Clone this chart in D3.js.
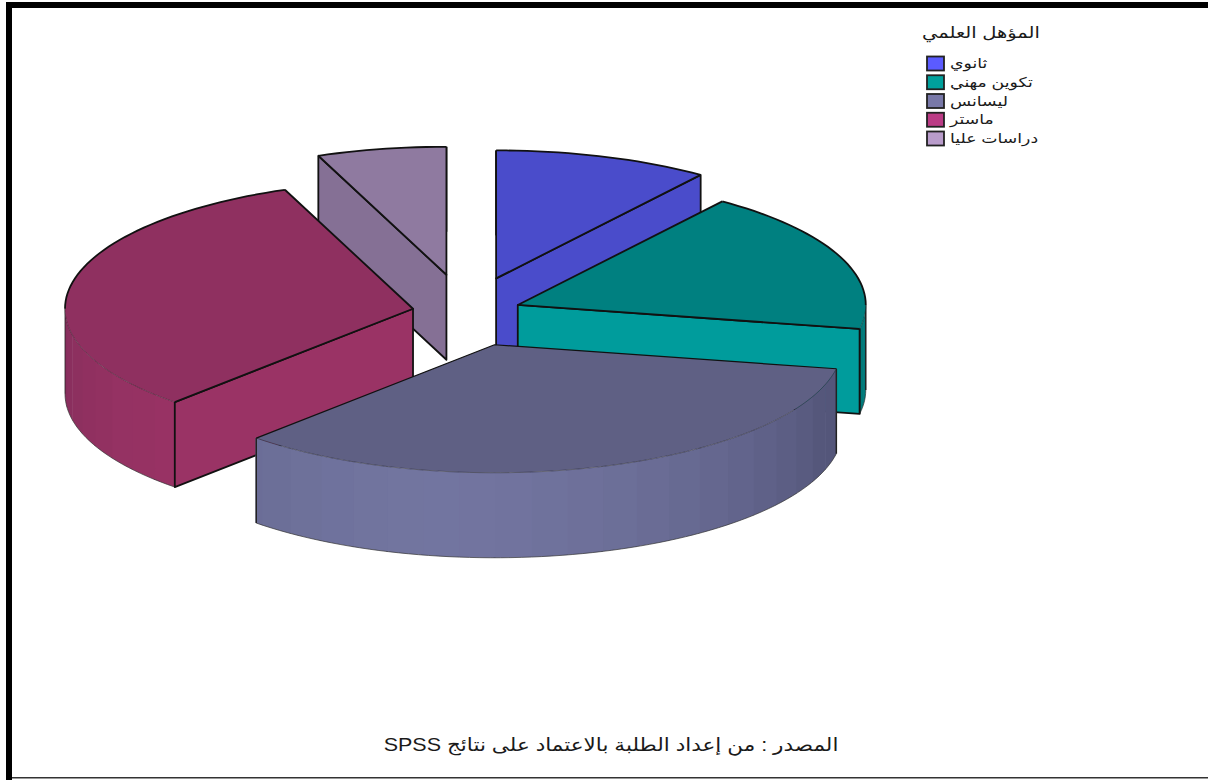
<!DOCTYPE html>
<html><head><meta charset="utf-8">
<script src="https://cdn.jsdelivr.net/npm/d3@7/dist/d3.min.js"></script>
<style>html,body{margin:0;padding:0;background:#fff;overflow:hidden}svg{display:block}text{font-family:"Liberation Sans","DejaVu Sans",sans-serif;fill:#1a1a1a}</style>
</head><body><svg id="c" width="1208" height="780"></svg>
<script>
const categories = ["ثانوي","تكوين مهني","ليسانس","ماستر","دراسات عليا"];
const values = [10,18,34,32,6];
const pulls = [0.28,0.16,0.265,0.155,0.30];
const topColors = ["#4a4ccb","#008080","#5f6084","#8f3060","#8f7aa0"];
const cutColors = ["#4a4ccb","#009c9c","#5f6084","#9a3365","#857095"];
const wallLight = ["#4a4ccb","#009c9c","#7275a0","#9a3365","#857095"];
const wallDark  = ["#3b3da3","#007a7a","#54567a","#772a55","#6b5a78"];
const legendColors = ["#5b5bff","#00a09c","#7878a8","#bb3b85","#b99ccb"];
const legendTitle = "المؤهل العلمي";
const sourceNote = "المصدر : من إعداد الطلبة بالاعتماد على نتائج SPSS";

const svg = d3.select("#c");
const drawOrder = [4,0,3,1,2];
const base = {x:466,y:312.5}, rx=348, ry=128, depth=85;
const sx = d3.scaleLinear().domain([-1,1]).range([-rx,rx]);
const sy = d3.scaleLinear().domain([-1,1]).range([-ry,ry]);
const arcs = d3.pie().sort(null).value(d=>d)(values);
const line = d3.line().x(p=>p[0]).y(p=>p[1]);
const PI = Math.PI;
function onRim(c,t,z=0){return [c.x+sx(Math.sin(t)), c.y+sy(-Math.cos(t))+z];}
function rim(c,t0,t1,z=0){
  const n=Math.max(2,Math.ceil((t1-t0)/0.03));
  return d3.range(n+1).map(i=>onRim(c,t0+(t1-t0)*i/n,z));
}
// frame
const frame = svg.append("g");
frame.append("rect").attr("x",6).attr("y",2).attr("width",1202).attr("height",6).attr("fill","#000");
frame.append("rect").attr("x",6).attr("y",2).attr("width",6).attr("height",778).attr("fill","#000");
frame.append("rect").attr("x",12).attr("y",777).attr("width",1196).attr("height",1.5).attr("fill","#333");

const g = svg.append("g");
drawOrder.forEach(i=>{
  const a=arcs[i], m=(a.startAngle+a.endAngle)/2;
  const c={x:base.x+pulls[i]*sx(Math.sin(m)), y:base.y+pulls[i]*sy(-Math.cos(m))};
  const heavy = i!==2;
  const sw = heavy?1.8:1.2;
  const s=g.append("g").attr("class","slice");
  // outer wall
  const w0=Math.max(a.startAngle,PI/2), w1=Math.min(a.endAngle,3*PI/2);
  if(w1>w0){
    const band=6*PI/180;
    const col=d3.interpolateRgb(wallLight[i],wallDark[i]);
    const k0=Math.floor(w0/band), k1=Math.ceil(w1/band);
    d3.range(k0,k1).forEach(k=>{
      const t0=Math.max(w0,k*band), t1=Math.min(w1,(k+1)*band);
      const mt=(t0+t1)/2;
      const f=Math.min(1,Math.pow(Math.abs(mt-(i===3?3.7:3.3))/(80*PI/180),1.6));
      const top=rim(c,t0-0.003,t1+0.003), bot=rim(c,t0-0.003,t1+0.003,depth).reverse();
      s.append("path").attr("d",line(top.concat(bot))+"Z").attr("fill",col(f)).attr("stroke","none");
    });
    s.append("path").attr("d",line(rim(c,w0,w1,depth))).attr("fill","none").attr("stroke","#333").attr("stroke-width",0.7);
    [w0,w1].forEach(t=>{
      const p=onRim(c,t);
      s.append("path").attr("d",line([p,[p[0],p[1]+depth]])).attr("stroke","#222").attr("stroke-width",i===3&&t===w1?0.8:1.5).attr("fill","none");
    });
  }
  // visible cut faces
  const cutFace=t=>{
    const p=onRim(c,t), apex=[c.x,c.y];
    s.append("path").attr("d",line([apex,p,[p[0],p[1]+depth],[apex[0],apex[1]+depth]])+"Z")
      .attr("fill",cutColors[i]).attr("stroke","#111").attr("stroke-width",1.8).attr("stroke-linejoin","round");
  };
  if(i===0||i===4) cutFace(i===0?a.endAngle:a.startAngle);
  if(i===1||i===3) cutFace(i===1?a.endAngle:a.startAngle);
  // back edges at the far side of a slice
  if(i===0||i===4){
    const p=onRim(c,i===0?a.startAngle:a.endAngle);
    s.append("path").attr("d",line([p,[p[0],p[1]+depth]])).attr("stroke","#111").attr("stroke-width",1.8).attr("fill","none");
  }
  // top face
  const pts=[[c.x,c.y]].concat(rim(c,a.startAngle,a.endAngle));
  s.append("path").attr("d",line(pts)+"Z").attr("fill",topColors[i]).attr("stroke","none");
  // radial edges
  s.append("path").attr("d",line([onRim(c,a.endAngle),[c.x,c.y],onRim(c,a.startAngle)])).attr("fill","none").attr("stroke","#111").attr("stroke-width",sw).attr("stroke-linejoin","round");
  // rim edge: heavy on the back part, fine on the front part
  const segs=[];
  if(a.startAngle<PI/2) segs.push([a.startAngle,Math.min(a.endAngle,PI/2),1.8,1]);
  if(w1>w0) segs.push([w0,w1,0.7,0.55]);
  if(a.endAngle>3*PI/2) segs.push([Math.max(a.startAngle,3*PI/2),a.endAngle,1.8,1]);
  segs.forEach(q=>s.append("path").attr("d",line(rim(c,q[0],q[1]))).attr("fill","none").attr("stroke","#111").attr("stroke-width",q[2]).attr("stroke-opacity",q[3]));
});

// legend
const legend = svg.append("g");
legend.append("text").attr("transform","translate(1040,38) scale(1.26,1)").attr("text-anchor","end").attr("font-size",15.5).text(legendTitle);
const ly=d3.scalePoint().domain(categories).range([56,131]);
categories.forEach((d,i)=>{
  legend.append("rect").attr("x",927).attr("y",ly(d)+0.5).attr("width",17).attr("height",14)
    .attr("fill",legendColors[i]).attr("stroke","#222").attr("stroke-width",1.8);
  legend.append("text").attr("transform",`translate(950,${ly(d)+12}) scale(1.28,1)`).attr("font-size",13.5).text(d);
});
svg.append("text").attr("transform","translate(611,751) scale(1.195,1)").attr("text-anchor","middle").attr("direction","rtl").attr("font-size",18).text(sourceNote);
</script></body></html>
